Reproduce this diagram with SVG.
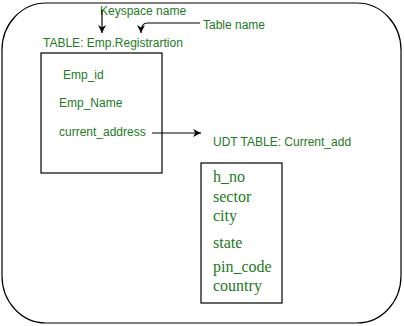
<svg xmlns="http://www.w3.org/2000/svg" width="404" height="326" viewBox="0 0 404 326">
<style>
.box{fill:#fff;stroke:#000;stroke-width:1.2}
.sans{font-family:"Liberation Sans",Arial,sans-serif;font-size:12px;fill:#237a23}
.serif{font-family:"Liberation Serif","Times New Roman",serif;font-size:16px;fill:#237a23}
.conn{fill:none;stroke:#000;stroke-width:1.2}
</style>
<defs>
<marker id="arr" viewBox="0 0 10 10" refX="10" refY="5" markerWidth="8" markerHeight="8" markerUnits="userSpaceOnUse" orient="auto">
<path d="M0,0 L10,5 L0,10 L3,5 Z" fill="#000"/>
</marker>
</defs>
<rect width="404" height="326" fill="#fff"/>
<g id="container">
<rect class="box" x="2" y="3" width="399" height="320" rx="44" ry="47"/>
</g>
<g id="keyspace-label"><text class="sans" x="100" y="15">Keyspace name</text></g>
<g id="table-label"><text class="sans" x="203" y="29">Table name</text></g>
<g id="emp-registration">
<text class="sans" x="43" y="47">TABLE: Emp.Registrartion</text>
<rect class="box" x="41" y="53" width="121" height="120"/>
<text class="sans" x="63" y="79">Emp_id</text>
<text class="sans" x="59" y="107">Emp_Name</text>
<text class="sans" x="59" y="136">current_address</text>
</g>
<g id="udt-current-add">
<text class="sans" x="213" y="146">UDT TABLE: Current_add</text>
<rect class="box" x="201" y="163" width="81" height="140"/>
<text class="serif" x="213" y="182">h_no</text>
<text class="serif" x="213" y="202">sector</text>
<text class="serif" x="213" y="221">city</text>
<text class="serif" x="213" y="248">state</text>
<text class="serif" x="213" y="272">pin_code</text>
<text class="serif" x="213" y="291">country</text>
</g>
<g id="connectors">
<path class="conn" d="M102,10 L102,33" marker-end="url(#arr)"/>
<path class="conn" d="M200,23 L147,23 Q141,23 141,33" marker-end="url(#arr)"/>
<path class="conn" d="M152,133 L201,133" marker-end="url(#arr)"/>
</g>
</svg>
